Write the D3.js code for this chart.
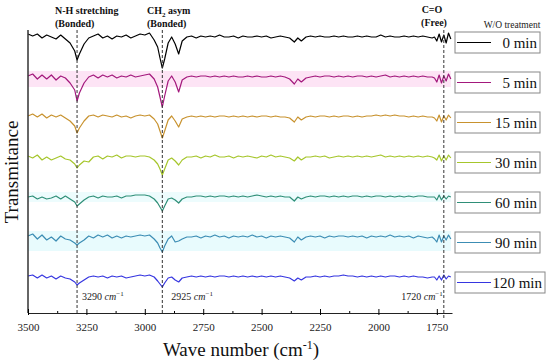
<!DOCTYPE html>
<html>
<head>
<meta charset="utf-8">
<script src="https://cdn.jsdelivr.net/npm/d3@7"></script>
<style>
  body { margin: 0; background: #fff; }
  svg { display: block; }
  svg text { font-family: "Liberation Serif", "Times New Roman", serif; }
</style>
</head>
<body>
<svg class="chart" width="550" height="363" font-family="Liberation Serif"></svg>
<script>
const width = 550;
const height = 363;
const svg = d3.select(".chart");

// wave numbers (cm-1) shared by all spectra
const waveNumbers = [
  3500, 3480, 3460, 3440, 3420, 3400, 3380, 3360, 3340, 3320, 3300,
  3290, 3280,
  3260, 3240, 3220, 3200, 3180, 3160, 3140, 3120, 3100, 3080, 3060, 3040, 3020,
  3000, 2980, 2960, 2945, 2935, 2925, 2915, 2900, 2885, 2870, 2855, 2840, 2820,
  2800, 2780, 2760, 2740, 2720, 2700, 2680, 2660, 2640, 2620, 2600, 2580, 2560, 2540, 2520, 2500, 2480, 2460, 2440, 2420, 2400,
  2380, 2360, 2345, 2330, 2310,
  2290, 2270, 2250, 2230, 2210, 2190, 2170, 2150, 2130, 2110, 2090, 2070, 2050, 2030, 2010, 1990, 1970, 1950, 1930, 1910, 1890, 1870, 1850, 1830, 1810, 1790, 1770,
  1760, 1750, 1740, 1730, 1720, 1710, 1700, 1690
];

const seriesNames = ["0 min", "5 min", "15 min", "30 min", "60 min", "90 min", "120 min"];
const seriesColors = ["#000000", "#a3187c", "#c8922e", "#a6c62c", "#2f8f78", "#3c8db4", "#3636e0"];
const seriesOffsets = [240, 200, 160, 120, 80, 40, 0]; // vertical stacking of spectra
const baseLevel = 36;

// transmittance relative to each spectrum's baseline (a.u.)
const t0 = [
  3, 1, 3, -1, 2, 0, -2, 2, -2, -6, -14,
  -23, -17,
  -7, -1, 1, 3, -1, 1, -2, 1, 0, 2, -1, 1, 3,
  2, 4, -3, -10, -21, -31, -22, -6, 0, -7, -17, -4, 0,
  1, -1, 1, 0, 1, 0, 2, 0, 0, 1, -1, 1, 0, 0, 1, 0, 1, -1, 0, 1, 0,
  -1, -5, -1, -4, 0,
  1, 0, 1, 0, 0, 1, 0, 1, 0, 0, 1, 0, 1, 0, 0, 2, 0, 1, 0, 0, 1, 0, 1, 0, 1, 0, -1,
  0, -4, 3, -5, 2, -6, 4, -2
];
const t5 = [
  1, 3, -2, 2, -2, 2, -3, 1, -1, -6, -13,
  -24, -16,
  -6, 0, 2, -1, 2, 0, 2, -1, 1, 0, 2, 0, 1,
  2, 3, -2, -10, -20, -30, -19, -4, 1, -5, -15, -3, 0,
  1, 0, 1, 1, 0, 1, 0, 1, 0, 1, 0, 0, 1, 0, 1, 0, 0, 1, 0, 1, 0,
  -2, -7, -2, -5, -1,
  0, 1, 0, 1, 1, 0, 1, 0, 1, 0, 1, 1, 0, 1, 0, 1, 2, 0, 1, 0, 1, 0, 1, 0, 1, 0, 0,
  -1, -5, 2, -6, 1, -4, 3, -2
];
const t15 = [
  1, 3, 0, 3, -1, 2, 0, 2, -1, -4, -9,
  -16, -11,
  -4, 1, 2, 0, 2, 1, 0, 2, 0, 1, -1, 1, 2,
  1, 2, -2, -7, -14, -21, -14, -3, 1, -4, -10, -2, 0,
  1, 0, 1, 0, 1, 0, 1, 1, 0, 1, 0, 1, 0, 1, 0, 1, 1, 0, 1, 0, 0,
  -1, -5, 0, -3, 0,
  1, 0, 1, 1, 0, 1, 0, 1, 1, 0, 1, 0, 1, 1, 2, 1, 2, 1, 2, 1, 1, 0, 1, 0, 1, 0, 0,
  -1, -4, 2, -5, 1, -3, 2, -1
];
const t30 = [
  1, -1, 2, -3, 0, -3, -1, 1, -2, -3, -7,
  -11, -8,
  -4, -5, 0, 1, -2, 1, 0, 2, -1, 1, 1, 0, 1,
  1, 0, -3, -7, -12, -18, -12, -3, -1, -4, -8, -3, 0,
  0, 1, -1, 1, 0, 2, 0, 0, 1, -1, 1, 0, 1, 0, -1, 1, 0, 2, 0, 1, 0,
  -1, -4, 0, -3, 0,
  0, 1, 0, 1, -1, 0, 1, 0, 1, 0, 1, 0, 1, 0, 1, 2, 0, 1, 0, 1, 0, 1, 0, 1, 0, 1, 0,
  -1, -3, 2, -4, 1, -3, 2, -1
];
const t60 = [
  0, 1, -2, 0, -2, -1, 1, -2, 1, -2, -5,
  -9, -7,
  -3, 0, 1, -1, 1, 0, 0, 1, -1, 1, 1, 2, 2,
  2, 1, -2, -6, -10, -14, -9, -2, -1, -3, -6, -2, 0,
  0, 1, 1, 0, 1, 0, 1, 1, 0, 1, 0, 1, 0, 1, 2, 1, 0, 1, 0, 1, 0,
  0, -4, 0, -2, 0,
  1, 0, 1, 1, 0, 1, 0, 1, 0, 1, 1, 0, 1, 0, 1, 1, 0, 1, 0, 1, 0, 1, 0, 1, 1, 0, 0,
  0, -3, 2, -3, 1, -2, 1, 0
];
const t90 = [
  1, 3, -2, 2, -3, 0, -4, 1, -2, -3, -6,
  -8, -6,
  -3, 1, -1, 2, 0, 2, -1, 1, -1, 1, 0, 1, 2,
  1, 2, -2, -6, -11, -15, -9, -2, 1, -5, -4, -2, 0,
  0, 1, -1, 1, 0, 2, 0, 1, -1, 1, 0, 1, 0, 2, 0, 1, -1, 1, 0, 1, 0,
  -1, -5, 0, -3, 0,
  1, 0, 1, -1, 1, 0, 1, 1, 0, 1, 0, 1, -1, 1, 0, 1, 0, 2, 0, 1, 0, 1, -1, 1, 0, -1, 0,
  -2, -5, 2, -5, 1, -3, 2, -2
];
const t120 = [
  1, 2, -1, 2, -1, 1, -2, 1, -1, -2, -5,
  -8, -6,
  -3, 0, 1, 0, 1, -1, 1, 0, 1, -1, 0, 1, 2,
  1, 2, 0, -4, -7, -10, -6, -1, 0, -3, -5, -1, 0,
  1, 0, 1, 0, 1, 0, 1, 1, 0, 1, 0, 1, 0, 1, 0, 1, 0, 1, 0, 1, 0,
  -1, -4, -1, -3, 0,
  0, 1, 0, 1, 0, 1, 1, 2, 1, 1, 0, 1, 0, 1, 0, 1, 0, 1, 1, 0, 1, 0, 1, 0, 0, -1, 0,
  0, -3, 1, -3, 2, -2, 1, 0
];
const seriesValues = [t0, t5, t15, t30, t60, t90, t120];

const majorTicks = [3500, 3250, 3000, 2750, 2500, 2250, 2000, 1750];
const minorTicks = [3375, 3125, 2875, 2625, 2375, 2125, 1875];

// marked bands
const bandWaves = [3290, 2925, 1720];

const xScale = d3.scaleLinear().domain([3500, 1685]).range([28, 452]);
const yScale = d3.scaleLinear().domain([0, 285]).range([313, 28]);
const fontFamily = "Liberation Serif, Times New Roman, serif";

// faint coloured bands behind some spectra
const shade = [
  { i: 1, color: "#fde4f5", lo: -10, hi: 6 },
  { i: 4, color: "#edfcfd", lo: -5, hi: 5 },
  { i: 5, color: "#e8fbfd", lo: -14, hi: 6 }
];
shade.forEach(s => {
  const yb = yScale(baseLevel + seriesOffsets[s.i]);
  svg.append("rect")
    .attr("x", xScale(3500))
    .attr("y", yb - s.hi)
    .attr("width", xScale(1690) - xScale(3500))
    .attr("height", s.hi - s.lo)
    .attr("fill", s.color);
});

// spectra
const line = d3.line()
  .x((d, i) => xScale(waveNumbers[i]))
  .y(d => d);

seriesValues.forEach((vals, k) => {
  const pts = vals.map(v => yScale(baseLevel + seriesOffsets[k] + v));
  svg.append("path")
    .attr("d", line(pts))
    .attr("fill", "none")
    .attr("stroke", seriesColors[k])
    .attr("stroke-width", 1.2)
    .attr("stroke-linejoin", "round");
});

// axes
svg.append("line")
  .attr("x1", 28).attr("x2", 28)
  .attr("y1", 30).attr("y2", 313)
  .attr("stroke", "#333").attr("stroke-width", 1.5);

const xAxis = svg.append("g")
  .attr("transform", "translate(0,313)")
  .call(d3.axisBottom(xScale).tickValues(majorTicks).tickFormat(d3.format("d"))
    .tickSize(2).tickSizeOuter(0).tickPadding(8));
xAxis.attr("font-family", fontFamily);
xAxis.select(".domain").attr("stroke", "#222");
xAxis.selectAll("text")
  .style("font-size", "11px")
  .attr("fill", "#222");

svg.append("g")
  .attr("transform", "translate(0,313)")
  .call(d3.axisBottom(xScale).tickValues(majorTicks).tickSize(-4).tickFormat(""))
  .select(".domain").remove();

svg.append("g")
  .attr("transform", "translate(0,313)")
  .call(d3.axisBottom(xScale).tickValues(minorTicks).tickSize(-2).tickFormat(""))
  .select(".domain").remove();

// dashed marker lines
bandWaves.forEach((wn, i) => {
  svg.append("line")
    .attr("x1", xScale(wn)).attr("x2", xScale(wn))
    .attr("y1", 30).attr("y2", i === 2 ? 318 : 313)
    .attr("stroke", "#333")
    .attr("stroke-width", 1)
    .attr("stroke-dasharray", "3,2");
});

// upper annotations
const ann = svg.append("g").style("font-size", "10px").style("font-weight", "bold").attr("fill", "#111");
ann.append("text").attr("x", 55).attr("y", 14).text("N-H stretching");
ann.append("text").attr("x", 55).attr("y", 27).text("(Bonded)");
const ch2 = ann.append("text").attr("x", 147).attr("y", 14);
ch2.append("tspan").text("CH");
ch2.append("tspan").attr("dy", 3).style("font-size", "7px").text("2");
ch2.append("tspan").attr("dy", -3).text(" asym");
ann.append("text").attr("x", 147).attr("y", 27).text("(Bonded)");
ann.append("text").attr("x", 432).attr("y", 13).attr("text-anchor", "middle").text("C=O");
ann.append("text").attr("x", 434).attr("y", 26).attr("text-anchor", "middle").text("(Free)");

// lower wave number labels
function cmLabel(x, y, num, anchor) {
  const t = svg.append("text")
    .attr("x", x).attr("y", y)
    .attr("text-anchor", anchor)
    .style("font-size", "10px")
    .attr("fill", "#222");
  t.append("tspan").text(num + " ");
  t.append("tspan").style("font-style", "italic").text("cm");
  t.append("tspan").attr("dy", -4).style("font-size", "7px").text("\u22121");
}
cmLabel(xScale(3290) + 5, 300, "3290", "start");
cmLabel(xScale(2925) + 9, 300, "2925", "start");
cmLabel(xScale(1720) - 1, 300, "1720", "end");

// axis titles
const xt = svg.append("text")
  .attr("x", 241).attr("y", 356)
  .attr("text-anchor", "middle")
  .style("font-size", "19px")
  .attr("fill", "#111");
xt.append("tspan").text("Wave number (cm");
xt.append("tspan").attr("dy", -7).style("font-size", "12px").text("-1");
xt.append("tspan").attr("dy", 7).text(")");

svg.append("text")
  .attr("transform", "translate(18,172) rotate(-90)")
  .attr("text-anchor", "middle")
  .style("font-size", "19px")
  .attr("fill", "#111")
  .text("Transmitance");

// legend
svg.append("text")
  .attr("x", 512).attr("y", 28)
  .attr("text-anchor", "middle")
  .style("font-size", "9.5px")
  .attr("fill", "#222")
  .text("W/O treatment");

seriesNames.forEach((name, k) => {
  const cy = yScale(baseLevel + seriesOffsets[k]) + 5.5;
  const w = name === "120 min" ? 90 : 85;
  const g = svg.append("g").attr("transform", `translate(455,${cy})`);
  g.append("rect")
    .attr("x", 0).attr("y", -10.5)
    .attr("width", w).attr("height", 21)
    .attr("fill", "#fff")
    .attr("stroke", "#888");
  g.append("line")
    .attr("x1", 2).attr("x2", 36)
    .attr("y1", 0).attr("y2", 0)
    .attr("stroke", seriesColors[k])
    .attr("stroke-width", 1.2);
  g.append("text")
    .attr("x", w - 3).attr("y", 5)
    .attr("text-anchor", "end")
    .style("font-size", "15px")
    .attr("fill", "#111")
    .text(name);
});
</script>
</body>
</html>
